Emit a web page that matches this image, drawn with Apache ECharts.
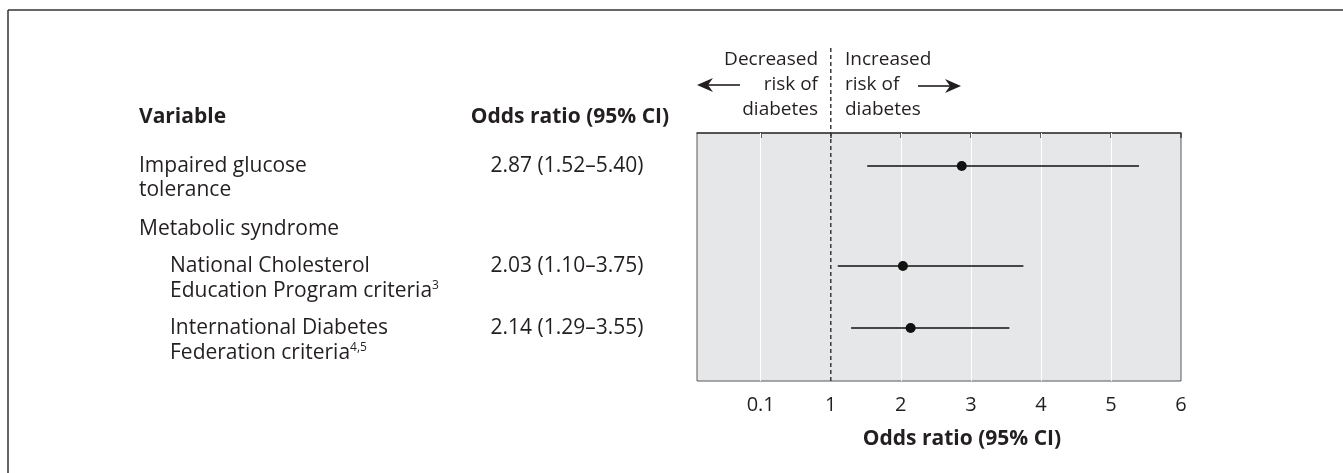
<!DOCTYPE html>
<html>
<head>
<meta charset="utf-8">
<script src="https://cdn.jsdelivr.net/npm/echarts@6/dist/echarts.min.js"></script>
<style>
  html, body { margin: 0; padding: 0; background: #fff; }
  #chart { width: 1343px; height: 473px; }
</style>
</head>
<body>
<div id="chart"></div>
<script>
// table rows, top to bottom
const variables = [
  "Impaired glucose tolerance",
  "National Cholesterol Education Program criteria",
  "International Diabetes Federation criteria",
];
const oddsRatio = [2.87, 2.03, 2.14];
const ciLow = [1.52, 1.1, 1.29];
const ciHigh = [5.4, 3.75, 3.55];
const ciText = ["2.87 (1.52–5.40)", "2.03 (1.10–3.75)", "2.14 (1.29–3.55)"];

// x axis
const xTicks = [0, 1, 2, 3, 4, 5, 6];
const xTickLabels = ["0.1", "1", "2", "3", "4", "5", "6"];
const gridValues = [0, 2, 3, 4, 5];
const refValue = 1;

// layout only: row centre in px below the top of the plot
const rowOffset = [33, 133, 195];

const INK = "#231f20";
const FONT = '"Open Sans", sans-serif';
const FS = 21; // table text
const FS_HEAD = 19; // arrow captions

let chart = echarts.init(document.getElementById("chart"));

function txt(x, y, text, opts) {
  opts = opts || {};
  return {
    type: "text",
    x: x,
    y: y,
    z: 50,
    style: {
      text: text,
      fill: INK,
      fontFamily: FONT,
      fontSize: opts.size || FS,
      fontWeight: opts.bold ? "bold" : "normal",
      textAlign: opts.align || "left",
      textVerticalAlign: "middle",
    },
  };
}

function supText(x, y, main, sup) {
  return {
    type: "text",
    x: x,
    y: y,
    z: 50,
    style: {
      text: "{a|" + main + "}{s|" + sup + "}",
      textAlign: "left",
      textVerticalAlign: "middle",
      rich: {
        a: { fill: INK, fontFamily: FONT, fontSize: FS, lineHeight: 22 },
        s: { fill: INK, fontFamily: FONT, fontSize: 12, verticalAlign: "top", lineHeight: 15 },
      },
    },
  };
}

function arrow(x1, x2, y, dir) {
  // dir -1 = points left, 1 = points right; x2 is the tip
  let back = x2 - dir * 16;
  let notch = x2 - dir * 11;
  return [
    { type: "line", z: 50, shape: { x1: x1, y1: y, x2: notch, y2: y }, style: { stroke: INK, lineWidth: 1.6 } },
    {
      type: "polygon",
      z: 50,
      shape: { points: [[x2, y], [back, y - 7], [notch, y], [back, y + 7]] },
      style: { fill: INK },
    },
  ];
}

const plotTop = 133;
const plotLeft = 697;
const plotWidth = 484;
const plotHeight = 248;

let options = {
  backgroundColor: "#fff",
  animation: false,
  grid: {
    left: plotLeft,
    top: plotTop,
    width: plotWidth,
    height: plotHeight,
    show: true,
    backgroundColor: "#e6e7e8",
    borderColor: "#58595b",
    borderWidth: 1,
  },
  xAxis: {
    type: "value",
    min: -0.91,
    max: 6,
    splitLine: { show: false },
    axisLine: { show: true, lineStyle: { color: "#3a3a3a", width: 1.5 } },
    axisTick: {
      show: true,
      customValues: xTicks,
      length: 5,
      lineStyle: { color: "#3a3a3a", width: 1.5 },
    },
    axisLabel: {
      customValues: xTicks,
      margin: 14,
      color: INK,
      fontFamily: FONT,
      fontSize: 20,
      formatter: (v) => xTickLabels[xTicks.indexOf(v)],
    },
  },
  yAxis: {
    type: "value",
    inverse: true,
    min: 0,
    max: plotHeight,
    show: false,
  },
  series: [
    {
      type: "custom",
      z: 3,
      renderItem: function (params, api) {
        let a = api.coord([api.value(0), api.value(2)]);
        let b = api.coord([api.value(1), api.value(2)]);
        return {
          type: "line",
          shape: { x1: a[0], y1: a[1], x2: b[0], y2: b[1] },
          style: { stroke: "#111", lineWidth: 1.5 },
        };
      },
      data: variables.map((v, i) => [ciLow[i], ciHigh[i], rowOffset[i]]),
      markLine: {
        z: 1,
        silent: true,
        symbol: "none",
        label: { show: false },
        lineStyle: { color: "#fff", width: 1, type: "solid" },
        data: gridValues.map((v) => ({ xAxis: v })),
      },
    },
    {
      type: "scatter",
      z: 4,
      symbol: "circle",
      symbolSize: 10,
      itemStyle: { color: "#111", opacity: 1 },
      data: variables.map((v, i) => [oddsRatio[i], rowOffset[i]]),
    },
  ],
};
chart.setOption(options);

// reference line at OR = 1 runs up into the header
let xRef = chart.convertToPixel({ xAxisIndex: 0 }, refValue);
let rowY = rowOffset.map((o) => plotTop + o);

let graphics = [
  // frame
  { type: "line", z: 50, shape: { x1: 8, y1: 10, x2: 1343, y2: 10 }, style: { stroke: "#333", lineWidth: 1.5 } },
  { type: "line", z: 50, shape: { x1: 8, y1: 10, x2: 8, y2: 473 }, style: { stroke: "#333", lineWidth: 1.5 } },
  {
    type: "line",
    z: 50,
    shape: { x1: xRef, y1: 48, x2: xRef, y2: plotTop + plotHeight },
    style: { stroke: "#3a3a3a", lineWidth: 1.5, lineDash: [4, 3] },
  },
  // header
  txt(139, 117, "Variable", { bold: true }),
  txt(570, 117, "Odds ratio (95% CI)", { bold: true, align: "center" }),
  txt(818, 60, "Decreased", { align: "right", size: FS_HEAD }),
  txt(818, 85, "risk of", { align: "right", size: FS_HEAD }),
  txt(818, 110, "diabetes", { align: "right", size: FS_HEAD }),
  txt(845, 60, "Increased", { size: FS_HEAD }),
  txt(845, 85, "risk of", { size: FS_HEAD }),
  txt(845, 110, "diabetes", { size: FS_HEAD }),
  ...arrow(740, 697, 85, -1),
  ...arrow(918, 961, 86, 1),
  // rows
  txt(139, rowY[0], "Impaired glucose"),
  txt(139, rowY[0] + 24, "tolerance"),
  txt(139, 229, "Metabolic syndrome"),
  txt(170, rowY[1], "National Cholesterol"),
  supText(170, rowY[1] + 25, "Education Program criteria", "3"),
  txt(170, rowY[2], "International Diabetes"),
  supText(170, rowY[2] + 25, "Federation criteria", "4,5"),
  txt(567, rowY[0], ciText[0], { align: "center" }),
  txt(567, rowY[1], ciText[1], { align: "center" }),
  txt(567, rowY[2], ciText[2], { align: "center" }),
  // axis title
  txt(962, 439, "Odds ratio (95% CI)", { bold: true, align: "center" }),
];
chart.setOption({ graphic: graphics });
</script>
</body>
</html>
